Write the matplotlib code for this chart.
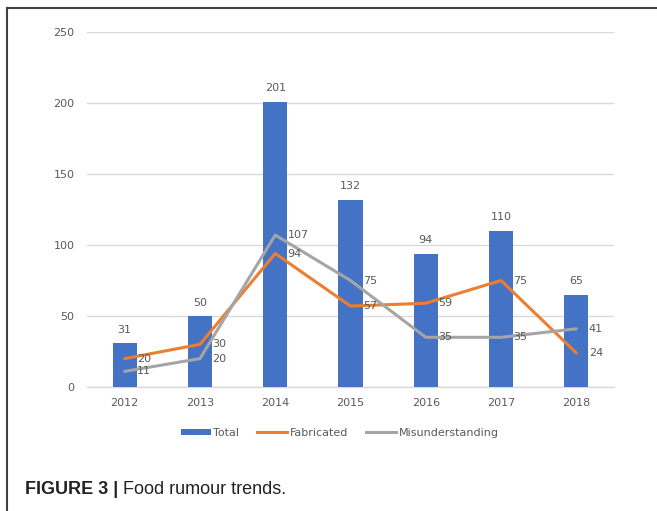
import matplotlib.pyplot as plt
import numpy as np
from matplotlib.lines import Line2D
from matplotlib.patches import Patch

# --- data ---
years = ['2012', '2013', '2014', '2015', '2016', '2017', '2018']
total = [31, 50, 201, 132, 94, 110, 65]
fabricated = [20, 30, 94, 57, 59, 75, 24]
misunderstanding = [11, 20, 107, 75, 35, 35, 41]

# --- style ---
c_bar = '#4472C4'
c_fab = '#ED7D31'
c_mis = '#A5A5A5'
c_text = '#595959'
c_grid = '#D9D9D9'
chart_font = ['Liberation Sans Narrow', 'DejaVu Sans']
label_size = 8

fig = plt.figure(figsize=(6.57, 5.11), dpi=100)
ax = fig.add_axes([87 / 657, 1 - 387 / 511, 527 / 657, 355 / 511])

x = np.arange(len(years))

ax.bar(x, total, width=0.32, color=c_bar, zorder=2)
ax.plot(x, fabricated, color=c_fab, linewidth=2.2, zorder=3, solid_capstyle='round')
ax.plot(x, misunderstanding, color=c_mis, linewidth=2.2, zorder=3, solid_capstyle='round')

# value labels
for xi, v in zip(x, total):
    ax.annotate(str(v), (xi, v), xytext=(0, 6), textcoords='offset points',
                ha='center', va='bottom', fontsize=label_size, color=c_text, family=chart_font)
for series in (fabricated, misunderstanding):
    for xi, v in zip(x, series):
        ax.annotate(str(v), (xi, v), xytext=(9, 0), textcoords='offset points',
                    ha='left', va='center', fontsize=label_size, color=c_text, family=chart_font)

ax.set_ylim(0, 250)
ax.set_yticks(range(0, 251, 50))
ax.set_xlim(-0.5, 6.5)
ax.set_xticks(x)
ax.set_xticklabels(years)
ax.yaxis.grid(True, color=c_grid, linewidth=1)
ax.axhline(0, color=c_grid, linewidth=1, clip_on=False, zorder=1)
ax.set_axisbelow(True)
for s in ax.spines.values():
    s.set_visible(False)
ax.tick_params(length=0, labelsize=label_size, labelcolor=c_text)
ax.tick_params(axis='y', pad=9)
ax.tick_params(axis='x', pad=8)
for lab in ax.get_xticklabels() + ax.get_yticklabels():
    lab.set_family(chart_font)

handles = [Patch(facecolor=c_bar),
           Line2D([], [], color=c_fab, linewidth=2.2),
           Line2D([], [], color=c_mis, linewidth=2.2)]
fig.legend(handles, ['Total', 'Fabricated', 'Misunderstanding'],
           loc='center', bbox_to_anchor=(0.517, 1 - 433 / 511), ncol=3, frameon=False,
           prop={'family': chart_font, 'size': label_size}, labelcolor=c_text,
           handlelength=2.7, handleheight=0.5, handletextpad=0.25, columnspacing=1.6)

# frame lines on the top and left edges
fig.add_artist(Line2D([7 / 657, 656 / 657], [1 - 8 / 511, 1 - 8 / 511], color='#404040', linewidth=1.5))
fig.add_artist(Line2D([7 / 657, 7 / 657], [0, 1 - 8 / 511], color='#404040', linewidth=1.5))

# caption
t = fig.text(25 / 657, 1 - 490 / 511, 'FIGURE 3 |', fontsize=13, fontweight='bold',
             family='Liberation Sans', color='#222222', va='center')
fig.canvas.draw()
bb = t.get_window_extent()
fig.text(bb.x1 / fig.bbox.width + 0.007, 1 - 490 / 511, 'Food rumour trends.', fontsize=13,
         family='Liberation Sans', color='#222222', va='center')

fig.savefig('out.png', dpi=100)
